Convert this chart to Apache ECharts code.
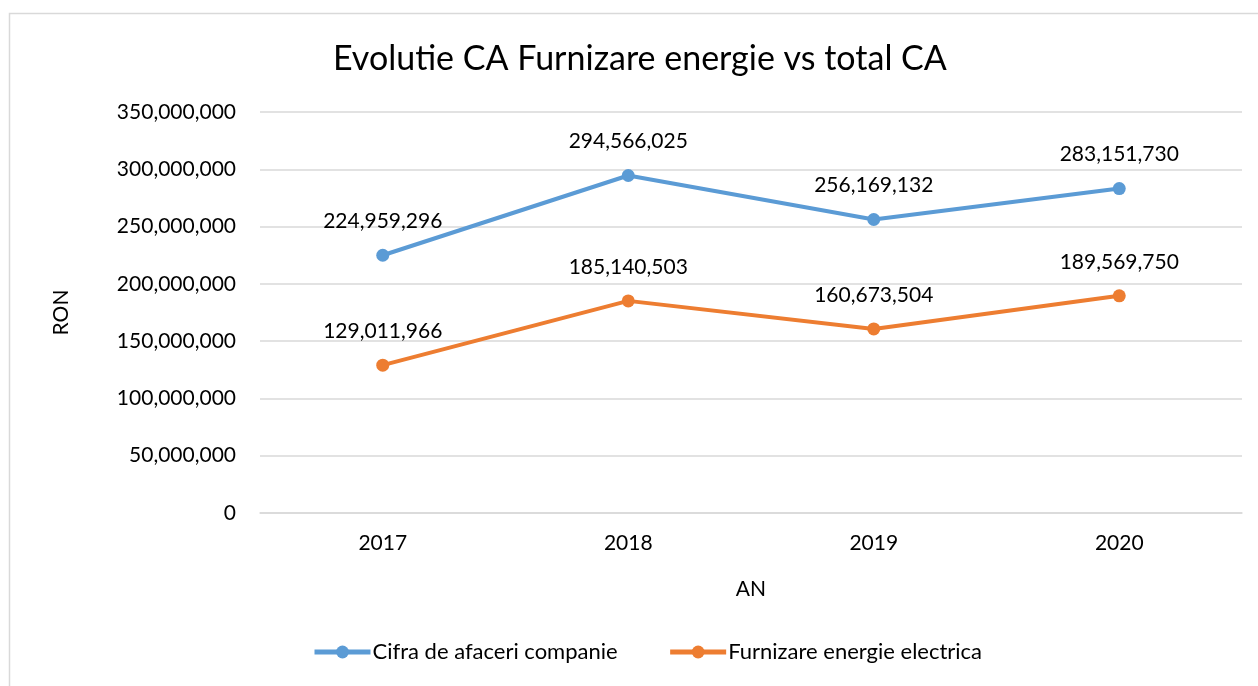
<!DOCTYPE html>
<html>
<head>
<meta charset="utf-8">
<script src="https://cdn.jsdelivr.net/npm/echarts@6/dist/echarts.min.js"></script>
<style>
  html, body { margin: 0; padding: 0; background: #fff; }
  #chart { width: 1258px; height: 686px; }
</style>
</head>
<body>
<div id="chart"></div>
<script>
var years = ['2017', '2018', '2019', '2020']
var cifraAfaceri = [224959296, 294566025, 256169132, 283151730]
var furnizareEnergie = [129011966, 185140503, 160673504, 189569750]
var seriesNames = ['Cifra de afaceri companie', 'Furnizare energie electrica']

var FONT = 'Lato'
var fmt = function (v) { return Number(v).toLocaleString('en-US') }

var chart = echarts.init(document.getElementById('chart'))

function lineSeries (name, data, color) {
    return {
        name: name,
        type: 'line',
        data: data,
        symbol: 'circle',
        symbolSize: 13,
        lineStyle: { color: color, width: 4 },
        itemStyle: { color: color },
        label: {
            show: true,
            position: 'top',
            distance: 17,
            color: '#000',
            fontFamily: FONT,
            fontSize: 21,
            formatter: function (p) { return fmt(p.value) }
        }
    }
}

var option = {
    backgroundColor: '#fff',
    animation: false,
    title: {
        text: 'Evolutie CA Furnizare energie vs total CA',
        left: 328,
        top: 37,
        textStyle: { fontFamily: FONT, fontSize: 34, fontWeight: 'normal', color: '#000' }
    },
    grid: { left: 260, right: 16, top: 112, bottom: 173, containLabel: false },
    legend: {
        bottom: 18,
        left: 307,
        itemWidth: 56,
        itemHeight: 16,
        itemGap: 50,
        lineStyle: { width: 5 },
        textStyle: { fontFamily: FONT, fontSize: 22, color: '#000', padding: [0, 0, 0, -3] },
        data: seriesNames
    },
    xAxis: {
        type: 'category',
        data: years,
        name: 'AN',
        nameLocation: 'middle',
        nameGap: 66,
        nameTextStyle: { fontFamily: FONT, fontSize: 21, color: '#000' },
        axisLine: { lineStyle: { color: '#d9d9d9', width: 1.5 } },
        axisTick: { show: false },
        axisLabel: { fontFamily: FONT, fontSize: 21, color: '#000', margin: 20 }
    },
    yAxis: {
        type: 'value',
        min: 0,
        max: 350000000,
        interval: 50000000,
        name: 'RON',
        nameLocation: 'middle',
        nameGap: 188,
        nameRotate: 90,
        nameTextStyle: { fontFamily: FONT, fontSize: 21, color: '#000' },
        axisLine: { show: false },
        axisTick: { show: false },
        axisLabel: { fontFamily: FONT, fontSize: 21, color: '#000', margin: 24, formatter: fmt },
        splitLine: { lineStyle: { color: '#d9d9d9', width: 1.5 } }
    },
    series: [
        lineSeries(seriesNames[0], cifraAfaceri, '#5b9bd5'),
        lineSeries(seriesNames[1], furnizareEnergie, '#ed7d31')
    ],
    graphic: [{
        type: 'polyline',
        shape: { points: [[9.5, 686], [9.5, 13.5], [1258, 13.5]] },
        style: { stroke: '#d9d9d9', lineWidth: 1.5, fill: null }
    }]
}

chart.setOption(option)
</script>
</body>
</html>
